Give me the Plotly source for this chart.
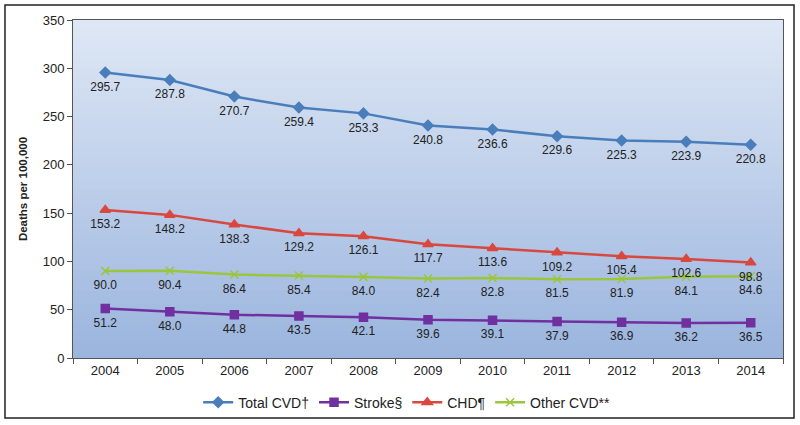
import plotly.graph_objects as go

years = ["2004", "2005", "2006", "2007", "2008", "2009", "2010", "2011", "2012", "2013", "2014"]
total_cvd = [295.7, 287.8, 270.7, 259.4, 253.3, 240.8, 236.6, 229.6, 225.3, 223.9, 220.8]
stroke = [51.2, 48.0, 44.8, 43.5, 42.1, 39.6, 39.1, 37.9, 36.9, 36.2, 36.5]
chd = [153.2, 148.2, 138.3, 129.2, 126.1, 117.7, 113.6, 109.2, 105.4, 102.6, 98.8]
other_cvd = [90.0, 90.4, 86.4, 85.4, 84.0, 82.4, 82.8, 81.5, 81.9, 84.1, 84.6]

series = [
    ("Total CVD†", total_cvd, "#4a7ebb", "diamond", 8),
    ("Stroke§", stroke, "#7030a0", "square", 8),
    ("CHD¶", chd, "#d9483f", "triangle-up", 9),
    ("Other CVD**", other_cvd, "#9bc53d", "x-thin-open", 8),
]

fig = go.Figure()
for name, vals, color, sym, size in series:
    fig.add_trace(go.Scatter(
        x=years, y=vals, name=name, mode="lines+markers",
        line=dict(color=color, width=2.5),
        marker=dict(symbol=sym, size=size, color=color, line=dict(color=color, width=1.5)),
    ))
# data labels (offset a little further below the points)
for name, vals, color, sym, size in series:
    fig.add_trace(go.Scatter(
        x=years, y=vals, mode="markers+text", showlegend=False, hoverinfo="skip",
        marker=dict(size=13, opacity=0),
        text=[f"{v:.1f}" for v in vals], textposition="bottom center",
        textfont=dict(family="Liberation Sans, Arial", size=12, color="#222222"),
    ))

# gradient background (overlapping strips to avoid seams)
shapes = []
n = 50
top = (222, 231, 245)
bot = (155, 181, 222)
for i in range(n):
    t = i / (n - 1)
    c = tuple(round(top[k] + (bot[k] - top[k]) * t) for k in range(3))
    shapes.append(dict(type="rect", xref="paper", yref="paper", x0=0, x1=1,
                       y0=max(0, 1 - (i + 2) / n), y1=1 - i / n, layer="below",
                       fillcolor=f"rgb{c}", line=dict(width=0)))
# outer border
shapes.append(dict(type="rect", xref="paper", yref="paper",
                   x0=-0.0958, x1=1.0155, y0=-0.1775, y1=1.0444,
                   line=dict(color="#222222", width=1.5), fillcolor="rgba(0,0,0,0)"))

fig.update_layout(
    width=800, height=425,
    margin=dict(l=73, r=17, t=20, b=67, autoexpand=False),
    paper_bgcolor="white", plot_bgcolor="rgba(0,0,0,0)",
    font=dict(family="Liberation Sans, Arial", size=13, color="#222222"),
    shapes=shapes,
    showlegend=True,
    legend=dict(orientation="h", x=0.47, xanchor="center", y=-0.085, yanchor="top",
                font=dict(size=14), itemwidth=30, tracegroupgap=0,
                bgcolor="rgba(0,0,0,0)"),
    xaxis=dict(type="category", range=[-0.5, len(years) - 0.5], showline=True,
               linecolor="#555555", linewidth=1,
               mirror=True, ticks="outside", tickson="boundaries", ticklen=5,
               tickcolor="#555555", showgrid=False, tickfont=dict(size=13), automargin=False),
    yaxis=dict(range=[0, 350], dtick=50, showline=True, linecolor="#555555", linewidth=1,
               mirror=True, ticks="outside", ticklen=5, tickcolor="#555555",
               showgrid=False, zeroline=False, tickfont=dict(size=13), automargin=False,
               title=dict(text="<b>Deaths per 100,000</b>", font=dict(size=11.5), standoff=12)),
)

fig.write_html("out.html", config={"displayModeBar": False},
               post_script="document.body.style.margin='0';")
